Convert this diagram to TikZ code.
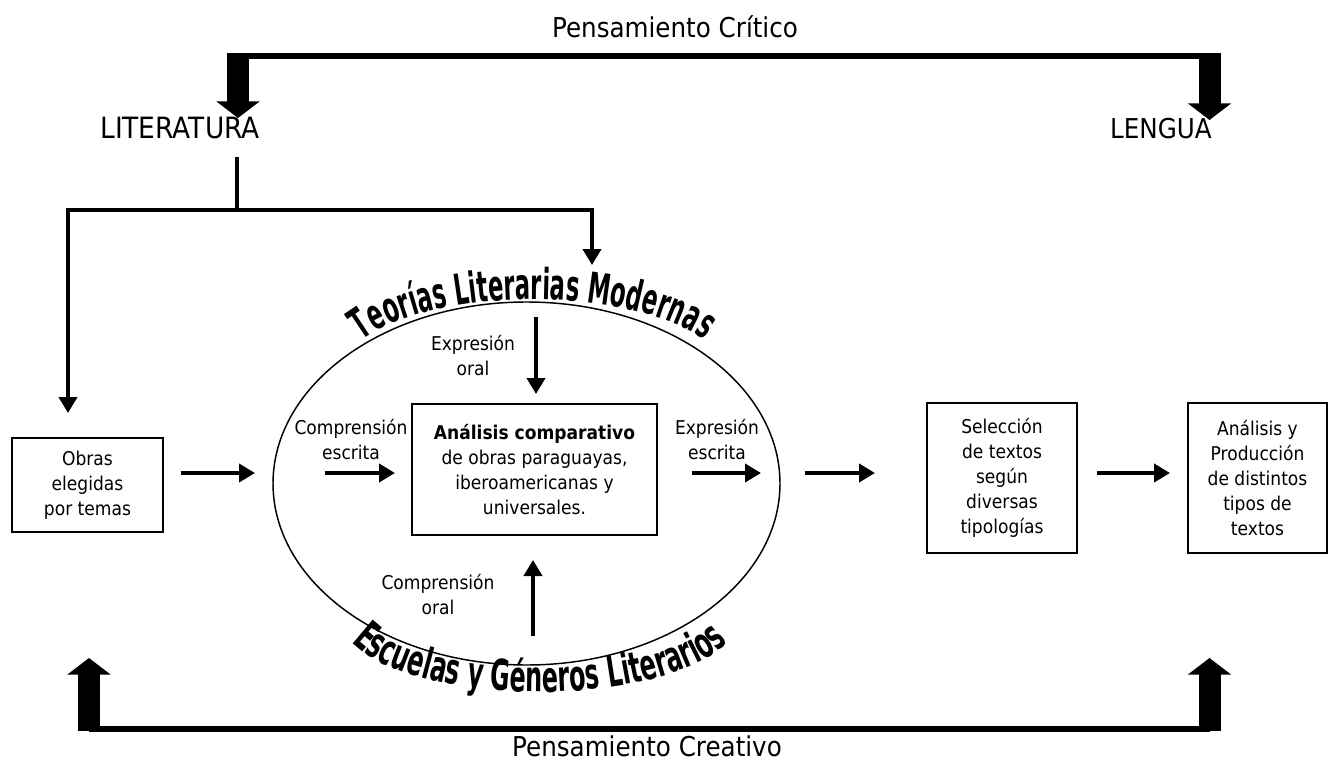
\documentclass[tikz,border=0pt]{standalone}
\usepackage{fontspec}
\setmainfont{DejaVu Sans}[FakeStretch=0.9]
\newfontfamily\arcfont{DejaVu Sans}[FakeStretch=0.53]
\newfontfamily\arcfontb{DejaVu Sans}[FakeStretch=0.56]
\usetikzlibrary{arrows.meta,shapes.geometric,decorations.text}
\begin{document}
\begin{tikzpicture}[x=0.75pt,y=-0.75pt,
  big/.style={font=\fontsize{20.5}{24}\selectfont, inner sep=0pt},
  lbl/.style={font=\fontsize{14.25}{18.75}\selectfont, align=center, inner sep=0pt},
  box/.style={draw, line width=1.1pt, align=center, inner sep=0pt, font=\fontsize{14.25}{18.75}\selectfont},
  conn/.style={line width=3.5pt},
  arr/.style={line width=3.5pt, -{Triangle[length=12pt,width=13.5pt]}},
  block/.style={line width=16.5pt, -{Triangle[length=12.5pt,width=32pt]}},
  hline/.style={line width=4.5pt},
  arcstyle/.style={decorate, decoration={text along path, text align=center, text={#1}}}
]
\useasboundingbox (0,0) rectangle (1329,760);

% top and bottom labels
\node[big, anchor=base] (crit) at (675,37) {Pensamiento Crítico};
\node[big, anchor=base, font=\fontsize{22}{24}\selectfont] (lit) at (180,138) {LITERATURA};
\node[big, anchor=base] (len) at (1161,138) {LENGUA};
\node[big, anchor=base] (crea) at (647,756) {Pensamiento Creativo};

% boxes
\node[box, minimum width=113.25pt, minimum height=70.5pt] (obras) at (87.5,485) {Obras\\elegidas\\por temas};
\node[box, minimum width=183.75pt, minimum height=98.25pt] (anal) at (534.5,469.5) {\textbf{Análisis comparativo}\\de obras paraguayas,\\iberoamericanas y\\universales.};
\node[box, minimum width=112.5pt, minimum height=112.5pt] (sel) at (1002,478) {Selección\\de textos\\según\\diversas\\tipologías};
\node[box, minimum width=104.25pt, minimum height=112.5pt] (prod) at (1257.5,478) {Análisis y\\Producción\\de distintos\\tipos de\\textos};

% ellipse
\node[draw, ellipse, line width=1.1pt, inner sep=0pt, minimum width=380.25pt, minimum height=272.25pt] (ell) at (526.5,483.5) {};

% small labels
\node[lbl] (eo) at (473,356) {Expresión\\oral};
\node[lbl] (ce) at (351,440) {Comprensión\\escrita};
\node[lbl] (ee) at (717,440) {Expresión\\escrita};
\node[lbl] (co) at (438,595) {Comprensión\\oral};

% curved titles (elliptic arcs, radii in canvas units)
\path[arcstyle={|\arcfont\bfseries\fontsize{32}{32}\selectfont|Teorías Literarias Modernas}]
  (354.5,347) arc[start angle=160, end angle=20, x radius=142.5pt, y radius=54pt];
\path[arcstyle={|\arcfontb\bfseries\fontsize{32}{32}\selectfont|Escuelas y Géneros Literarios}]
  (352,642.6) arc[start angle=200, end angle=340, x radius=150pt, y radius=56.25pt];

% coordinates
\coordinate (tl) at (238,53);
\coordinate (tr) at (1209.5,53);
\coordinate (litin) at (238,118);
\coordinate (lenin) at (1209.5,120);
\coordinate (bl) at (89,731);
\coordinate (br) at (1209.5,731);
\coordinate (blt) at (89,658);
\coordinate (brt) at (1209.5,658);
\coordinate (ls) at (237,157);
\coordinate (lj) at (237,210);
\coordinate (obrin) at (68,413);
\coordinate (ellin) at (592,265);

% critical thinking bracket
\draw[hline] (238,56) -- (1209.5,56);
\draw[block] (tl) -- (litin);
\draw[block] (tr) -- (lenin);

% creative thinking bracket
\draw[hline] (89,728.5) -- (1209.5,728.5);
\draw[block] (bl) -- (blt);
\draw[block] (br) -- (brt);

% literatura connectors
\draw[conn] (ls) -- (lj);
\draw[arr] (lj) -| (obrin);
\draw[arr] (lj) -| (ellin);

% flow arrows
\draw[arr] (181,473) -- (255,473);
\draw[arr] (325,473) -- (395,473);
\draw[arr] (692,473) -- (761,473);
\draw[arr] (805,473) -- (875,473);
\draw[arr] (1097,473) -- (1170,473);
\draw[arr] (536,317) -- (536,394);
\draw[arr] (533,636) -- (533,560);
\end{tikzpicture}
\end{document}
